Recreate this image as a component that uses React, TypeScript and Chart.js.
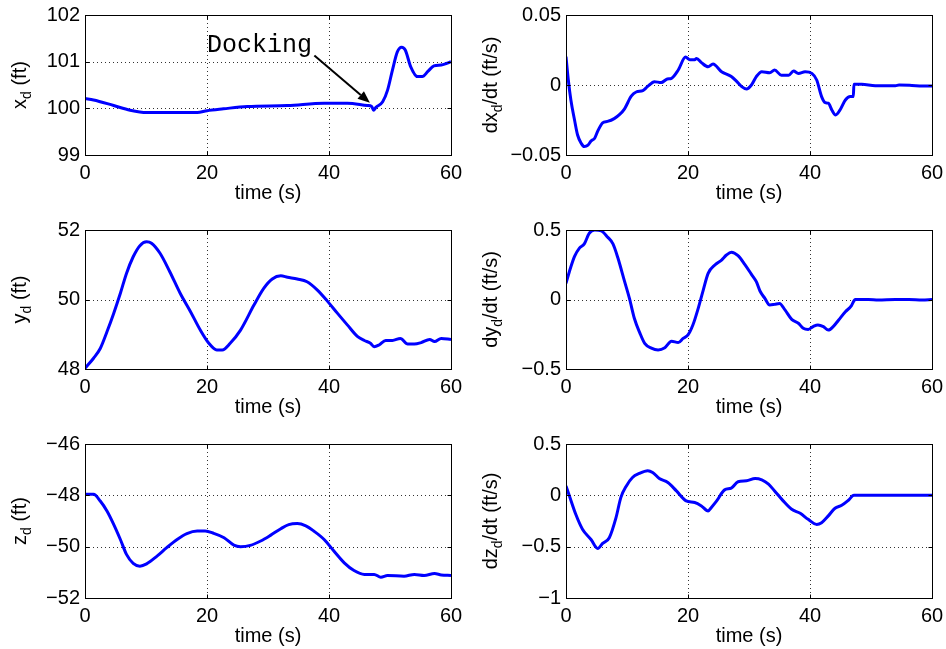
import React, { useEffect, useRef } from 'react';
import { Chart, registerables } from 'chart.js';
Chart.register(...registerables);

// ---------- data ----------
const xTicks = [0, 20, 40, 60];

const tXd = [0, 1.4, 4.7, 7.4, 10.1, 18.4, 20, 22.7, 26.6, 33.2, 39.2, 43, 46.3, 47, 47.3, 47.7, 48.8, 49.6, 50.4, 51.2, 51.9, 52.5, 53.4, 54.5, 55.3, 56.2, 57.2, 58.4, 59.2, 60];
const xd = [100.21, 100.18, 100.06, 99.96, 99.91, 99.91, 99.95, 99.99, 100.04, 100.06, 100.11, 100.11, 100.06, 100.04, 99.96, 100.02, 100.14, 100.39, 100.82, 101.21, 101.31, 101.25, 100.89, 100.68, 100.68, 100.79, 100.91, 100.93, 100.96, 101.0];

const tDxd = [0, 0.38, 0.8, 1.4, 1.9, 2.5, 3.0, 3.6, 4.1, 4.7, 5.2, 6.0, 6.8, 7.9, 8.8, 9.6, 10.7, 11.5, 12.6, 13.4, 14.5, 15.6, 16.6, 17.3, 18.4, 19.6, 20.3, 21.1, 21.4, 22.2, 23.3, 24.1, 25.5, 27.1, 27.9, 28.8, 29.6, 30.4, 31.2, 32.1, 33.4, 34.2, 35.3, 36.5, 37.3, 38.1, 39.2, 40.3, 41.1, 41.9, 42.5, 43, 43.6, 44.2, 44.9, 45.8, 46.6, 47.1, 47.2, 48.5, 50.7, 54, 54.6, 56.7, 58.4, 60];
const dxd = [0.0202, 0.0036, -0.0107, -0.025, -0.0357, -0.0417, -0.044, -0.043, -0.040, -0.038, -0.033, -0.027, -0.026, -0.024, -0.021, -0.017, -0.008, -0.005, -0.004, -0.001, 0.0024, 0.0017, 0.0043, 0.0048, 0.0107, 0.020, 0.018, 0.018, 0.019, 0.016, 0.013, 0.015, 0.0095, 0.006, 0.0029, -0.0012, -0.0029, 0, 0.006, 0.0095, 0.0088, 0.0107, 0.007, 0.007, 0.010, 0.0083, 0.0095, 0.0083, 0.0036, -0.0083, -0.0126, -0.013, -0.018, -0.0214, -0.018, -0.0107, -0.0083, -0.0083, 0.0005, 0.0005, -0.0005, -0.0005, 0, -0.0003, -0.0007, -0.0007];

const tYd = [0, 1.4, 2.5, 3.6, 4.7, 5.8, 6.8, 7.9, 9.0, 10.1, 10.9, 12.3, 13.9, 15.6, 17.3, 18.9, 20.3, 21.6, 22.5, 23.8, 25.5, 27.7, 29.3, 30.7, 32.1, 33.2, 34.8, 36.4, 38.1, 39.7, 41.4, 43.0, 44.7, 45.8, 46.8, 47.4, 48.2, 49.3, 50.4, 51.7, 52.9, 54.0, 55.1, 56.5, 57.3, 58.4, 60];
const yd = [48.02, 48.31, 48.59, 49.07, 49.60, 50.18, 50.75, 51.23, 51.55, 51.66, 51.62, 51.33, 50.80, 50.18, 49.65, 49.12, 48.74, 48.55, 48.55, 48.74, 49.12, 49.84, 50.32, 50.59, 50.68, 50.64, 50.59, 50.51, 50.27, 49.96, 49.60, 49.27, 48.93, 48.82, 48.74, 48.64, 48.69, 48.82, 48.82, 48.88, 48.72, 48.72, 48.76, 48.85, 48.79, 48.88, 48.85];

const tDyd = [0, 0.55, 1.4, 2.2, 3.0, 3.8, 4.7, 5.8, 6.8, 7.7, 8.5, 9.6, 10.4, 11.2, 12.1, 12.9, 14.0, 15.1, 16.2, 17.3, 18.4, 19.2, 20.0, 20.8, 21.6, 22.5, 23.3, 24.4, 25.5, 26.3, 27.1, 28.2, 29.3, 30.4, 31.2, 31.8, 32.6, 33.4, 34.2, 35.0, 35.9, 37.0, 38.1, 38.9, 39.7, 40.5, 41.3, 42.2, 43.0, 43.8, 44.7, 45.8, 46.8, 47.2, 47.4, 49.6, 51.2, 54, 56.2, 58.4, 60];
const dyd = [0.116, 0.20, 0.31, 0.37, 0.40, 0.476, 0.50, 0.493, 0.45, 0.40, 0.30, 0.13, 0.008, -0.135, -0.24, -0.315, -0.35, -0.363, -0.347, -0.30, -0.31, -0.28, -0.255, -0.184, -0.075, 0.068, 0.188, 0.248, 0.284, 0.32, 0.34, 0.315, 0.253, 0.181, 0.128, 0.061, 0.008, -0.04, -0.035, -0.028, -0.075, -0.143, -0.171, -0.207, -0.215, -0.195, -0.183, -0.195, -0.22, -0.195, -0.147, -0.088, -0.044, -0.01, 0, 0, -0.004, 0, 0, -0.003, 0];

const tZd = [0, 1.4, 2.5, 3.6, 4.7, 5.8, 6.8, 7.9, 9.0, 10.1, 11.8, 13.4, 15.1, 16.7, 18.4, 19.7, 21.1, 22.8, 24.4, 25.5, 27.1, 28.8, 30.4, 32.1, 33.4, 34.8, 36.2, 37.5, 39.2, 40.8, 42.5, 44.1, 45.8, 47.4, 48.5, 49.6, 52.3, 54.0, 55.6, 57.3, 58.4, 60];
const zd = [-47.96, -47.96, -48.22, -48.61, -49.13, -49.72, -50.30, -50.65, -50.76, -50.67, -50.37, -50.04, -49.72, -49.49, -49.39, -49.39, -49.48, -49.65, -49.94, -50.00, -49.95, -49.78, -49.56, -49.30, -49.14, -49.10, -49.19, -49.39, -49.72, -50.17, -50.63, -50.93, -51.08, -51.08, -51.19, -51.12, -51.15, -51.08, -51.12, -51.05, -51.10, -51.12];

const tDzd = [0, 0.55, 1.6, 2.7, 4.1, 5.2, 6.0, 7.1, 8.2, 9.0, 9.9, 10.9, 12.0, 13.4, 14.2, 15.3, 16.7, 18.1, 19.7, 21.1, 22.2, 23.3, 23.8, 24.7, 26.0, 27.1, 28.2, 29.6, 31.0, 32.1, 33.2, 34.2, 35.6, 37.0, 38.4, 39.7, 41.1, 41.9, 43.0, 44.1, 45.2, 46.3, 47.2, 60];
const dzd = [0.092, -0.005, -0.185, -0.33, -0.43, -0.517, -0.468, -0.413, -0.217, -0.02, 0.092, 0.174, 0.213, 0.24, 0.223, 0.164, 0.125, 0.043, -0.054, -0.07, -0.103, -0.152, -0.12, -0.054, 0.053, 0.07, 0.132, 0.141, 0.164, 0.151, 0.109, 0.043, -0.054, -0.136, -0.175, -0.234, -0.283, -0.266, -0.20, -0.126, -0.097, -0.048, 0, 0];

const yTicksXd = [99, 100, 101, 102];
const yTicksDxd = [-0.05, 0, 0.05];
const yTicksYd = [48, 50, 52];
const yTicksDyd = [-0.5, 0, 0.5];
const yTicksZd = [-52, -50, -48, -46];
const yTicksDzd = [-1, -0.5, 0, 0.5];

const xTitle = 'time (s)';
const dockLabel = 'Docking';
const dockTip = [46.7, 100.12];
const dockTail = [37.6, 101.13];
const dockText = [20.0, 101.21];

// ---------- layout ----------
const CW = 473;
const COLS = [
  { left: 0, areaL: 85, areaR: 451, titleX: 26 },
  { left: 473, areaL: 93, areaR: 459, titleX: 24 },
];
const ROWS = [
  { top: 0, h: 205, areaT: 15, areaB: 155 },
  { top: 205, h: 220, areaT: 25, areaB: 164 },
  { top: 425, h: 224, areaT: 19, areaB: 173 },
];

const FONT = '"Liberation Sans", Arial, Helvetica, sans-serif';

type PanelDef = {
  t: number[];
  v: number[];
  yTicks: number[];
  label: [string, string, string];
  col: number;
  row: number;
  annotate?: boolean;
};

const panels: PanelDef[] = [
  { t: tXd, v: xd, yTicks: yTicksXd, label: ['x', 'd', ' (ft)'], col: 0, row: 0, annotate: true },
  { t: tDxd, v: dxd, yTicks: yTicksDxd, label: ['dx', 'd', '/dt (ft/s)'], col: 1, row: 0 },
  { t: tYd, v: yd, yTicks: yTicksYd, label: ['y', 'd', ' (ft)'], col: 0, row: 1 },
  { t: tDyd, v: dyd, yTicks: yTicksDyd, label: ['dy', 'd', '/dt (ft/s)'], col: 1, row: 1 },
  { t: tZd, v: zd, yTicks: yTicksZd, label: ['z', 'd', ' (ft)'], col: 0, row: 2 },
  { t: tDzd, v: dzd, yTicks: yTicksDzd, label: ['dz', 'd', '/dt (ft/s)'], col: 1, row: 2 },
];

const fmt = (v: number) => (v < 0 ? '\u2212' : '') + String(Math.abs(v));

function makePlugin(p: PanelDef) {
  const col = COLS[p.col];
  return {
    id: 'matlabAxes',
    beforeDatasetsDraw(chart: any) {
      const { ctx, chartArea: a, scales } = chart;
      const xs = scales.x, ys = scales.y;
      ctx.save();
      ctx.strokeStyle = 'rgba(0,0,0,0.8)';
      ctx.lineWidth = 1;
      ctx.setLineDash([1, 3]);
      xTicks.slice(1, -1).forEach((t) => {
        const px = Math.round(xs.getPixelForValue(t)) + 0.5;
        ctx.beginPath();
        ctx.moveTo(px, a.top);
        ctx.lineTo(px, a.bottom);
        ctx.stroke();
      });
      p.yTicks.slice(1, -1).forEach((v) => {
        const py = Math.round(ys.getPixelForValue(v)) + 0.5;
        ctx.beginPath();
        ctx.moveTo(a.left, py);
        ctx.lineTo(a.right, py);
        ctx.stroke();
      });
      ctx.restore();
    },
    afterDraw(chart: any) {
      const { ctx, chartArea: a, scales } = chart;
      const xs = scales.x, ys = scales.y;
      const L = Math.round(a.left) + 0.5, R = Math.round(a.right) + 0.5;
      const T = Math.round(a.top) + 0.5, B = Math.round(a.bottom) + 0.5;
      ctx.save();
      ctx.strokeStyle = '#000';
      ctx.lineWidth = 1;
      ctx.strokeRect(L, T, R - L, B - T);
      const TL = 4;
      ctx.beginPath();
      xTicks.forEach((t) => {
        const px = Math.round(xs.getPixelForValue(t)) + 0.5;
        ctx.moveTo(px, B); ctx.lineTo(px, B - TL);
        ctx.moveTo(px, T); ctx.lineTo(px, T + TL);
      });
      p.yTicks.forEach((v) => {
        const py = Math.round(ys.getPixelForValue(v)) + 0.5;
        ctx.moveTo(L, py); ctx.lineTo(L + TL, py);
        ctx.moveTo(R, py); ctx.lineTo(R - TL, py);
      });
      ctx.stroke();

      ctx.fillStyle = '#000';
      ctx.font = `20px ${FONT}`;
      // x tick labels
      ctx.textAlign = 'center';
      ctx.textBaseline = 'alphabetic';
      xTicks.forEach((t) => {
        ctx.fillText(fmt(t), xs.getPixelForValue(t), a.bottom + 24);
      });
      // x title
      ctx.fillText(xTitle, (a.left + a.right) / 2, a.bottom + 44);
      // y tick labels
      ctx.textAlign = 'right';
      ctx.textBaseline = 'middle';
      p.yTicks.forEach((v) => {
        ctx.fillText(fmt(v), a.left - 5, ys.getPixelForValue(v));
      });
      // y title with subscript, rotated
      const [main, sub, rest] = p.label;
      const big = `20px ${FONT}`, small = `14px ${FONT}`;
      ctx.font = big;
      const w1 = ctx.measureText(main).width;
      const w3 = ctx.measureText(rest).width;
      ctx.font = small;
      const w2 = ctx.measureText(sub).width;
      const total = w1 + w2 + w3;
      ctx.translate(col.titleX, (a.top + a.bottom) / 2);
      ctx.rotate(-Math.PI / 2);
      ctx.textAlign = 'left';
      ctx.textBaseline = 'alphabetic';
      let cx = -total / 2;
      ctx.font = big;
      ctx.fillText(main, cx, 0);
      cx += w1;
      ctx.font = small;
      ctx.fillText(sub, cx, 5);
      cx += w2;
      ctx.font = big;
      ctx.fillText(rest, cx, 0);
      ctx.restore();

      if (p.annotate) {
        ctx.save();
        ctx.fillStyle = '#000';
        ctx.strokeStyle = '#000';
        ctx.font = '25px "Liberation Mono", "Courier New", monospace';
        ctx.textAlign = 'left';
        ctx.textBaseline = 'alphabetic';
        ctx.fillText(dockLabel, xs.getPixelForValue(dockText[0]), ys.getPixelForValue(dockText[1]));
        const x0 = xs.getPixelForValue(dockTail[0]), y0 = ys.getPixelForValue(dockTail[1]);
        const x1 = xs.getPixelForValue(dockTip[0]), y1 = ys.getPixelForValue(dockTip[1]);
        const ang = Math.atan2(y1 - y0, x1 - x0);
        const hl = 12, hw = 5;
        const bx = x1 - hl * Math.cos(ang), by = y1 - hl * Math.sin(ang);
        ctx.lineWidth = 2;
        ctx.beginPath();
        ctx.moveTo(x0, y0);
        ctx.lineTo(bx, by);
        ctx.stroke();
        ctx.beginPath();
        ctx.moveTo(x1, y1);
        ctx.lineTo(bx + hw * Math.sin(ang), by - hw * Math.cos(ang));
        ctx.lineTo(bx - hw * Math.sin(ang), by + hw * Math.cos(ang));
        ctx.closePath();
        ctx.fill();
        ctx.restore();
      }
    },
  };
}

function Panel({ p }: { p: PanelDef }) {
  const ref = useRef<HTMLCanvasElement>(null);
  const col = COLS[p.col];
  const row = ROWS[p.row];
  useEffect(() => {
    if (!ref.current) return;
    const yMin = p.yTicks[0];
    const yMax = p.yTicks[p.yTicks.length - 1];
    const chart = new Chart(ref.current, {
      type: 'line',
      data: {
        datasets: [
          {
            data: p.t.map((t, i) => ({ x: t, y: p.v[i] })),
            borderColor: '#0000ff',
            borderWidth: 3,
            pointRadius: 0,
            fill: false,
            cubicInterpolationMode: 'monotone',
          },
        ],
      },
      options: {
        animation: false,
        responsive: false,
        devicePixelRatio: 1,
        events: [],
        layout: { padding: { left: 0, top: row.areaT, right: CW - col.areaR, bottom: 0 } },
        plugins: { legend: { display: false }, tooltip: { enabled: false } },
        scales: {
          x: {
            type: 'linear',
            min: 0,
            max: 60,
            ticks: { display: false },
            grid: { display: false, drawTicks: false },
            border: { display: false },
            afterFit: (s: any) => { s.height = row.h - row.areaB; },
          },
          y: {
            type: 'linear',
            min: yMin,
            max: yMax,
            ticks: { display: false },
            grid: { display: false, drawTicks: false },
            border: { display: false },
            afterFit: (s: any) => { s.width = col.areaL; },
          },
        },
      } as any,
      plugins: [makePlugin(p)],
    });
    return () => chart.destroy();
  }, []);
  return (
    <canvas
      ref={ref}
      width={CW}
      height={row.h}
      style={{ position: 'absolute', left: col.left, top: row.top, width: CW, height: row.h, display: 'block' }}
    />
  );
}

export default function App() {
  return (
    <div style={{ position: 'fixed', left: 0, top: 0, width: 946, height: 649, background: '#fff', overflow: 'hidden' }}>
      {panels.map((p, i) => (
        <Panel key={i} p={p} />
      ))}
    </div>
  );
}
